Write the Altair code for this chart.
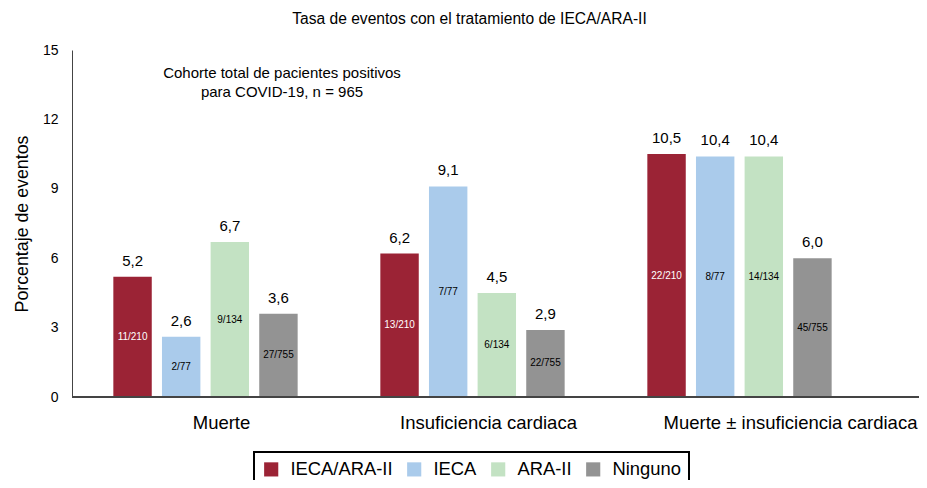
import altair as alt
import pandas as pd

grupos = ["Muerte", "Insuficiencia cardiaca", "Muerte ± insuficiencia cardiaca"]
tratamientos = ["IECA/ARA-II", "IECA", "ARA-II", "Ninguno"]
colores = ["#9B2335", "#AACBEB", "#C3E2C3", "#939393"]
valores = [
    [5.2, 2.6, 6.7, 3.6],
    [6.2, 9.1, 4.5, 2.9],
    [10.5, 10.4, 10.4, 6.0],
]
etiquetas = [
    ["5,2", "2,6", "6,7", "3,6"],
    ["6,2", "9,1", "4,5", "2,9"],
    ["10,5", "10,4", "10,4", "6,0"],
]
fracciones = [
    ["11/210", "2/77", "9/134", "27/755"],
    ["13/210", "7/77", "6/134", "22/755"],
    ["22/210", "8/77", "14/134", "45/755"],
]
y_ticks = [0, 3, 6, 9, 12, 15]

rows = []
for gi, g in enumerate(grupos):
    for ti, t in enumerate(tratamientos):
        rows.append({
            "grupo": g, "trat": t, "valor": valores[gi][ti],
            "etiqueta": etiquetas[gi][ti], "frac": fracciones[gi][ti],
            "mitad": valores[gi][ti] / 2,
            "blanco": t == "IECA/ARA-II",
        })
df = pd.DataFrame(rows)

FONT = "Liberation Sans"
W, H = 847, 347

x_enc = alt.X(
    "grupo:N", sort=grupos, title=None,
    scale=alt.Scale(paddingInner=0, paddingOuter=0, range=[0, 801]),
    axis=alt.Axis(
        domain=False, ticks=False, labelAngle=0, labelFontSize=18.5,
        labelFont=FONT, labelColor="#000", labelPadding=16, labelLimit=0,
        labelOffset={"condition": {"test": "datum.value == 'Muerte ± insuficiencia cardiaca'", "value": 51}, "value": 16},
    ),
)
xoff = alt.XOffset("trat:N", sort=tratamientos,
                   scale=alt.Scale(paddingInner=0.21, paddingOuter=0.85))
color = alt.Color(
    "trat:N", sort=tratamientos,
    scale=alt.Scale(domain=tratamientos, range=colores),
    legend=alt.Legend(
        title=None, orient="none", legendX=182, legendY=402, direction="horizontal",
        symbolType="square", symbolSize=200, symbolStrokeWidth=0,
        labelFontSize=18.4, labelFont=FONT, labelColor="#000", labelOffset=10,
        columnPadding=12, strokeColor="#000", padding=8,
    ),
)
y_enc = alt.Y(
    "valor:Q", title="Porcentaje de eventos",
    scale=alt.Scale(domain=[0, 15], nice=False),
    axis=alt.Axis(
        values=y_ticks, ticks=False, grid=False, domainColor="#444",
        labelFontSize=14, labelFont=FONT, labelColor="#000", labelPadding=14,
        titleFontSize=17.8, titleFont=FONT, titleFontWeight="normal",
        titleColor="#000", titlePadding=11,
    ),
)

base = alt.Chart(df)
bars = base.mark_bar().encode(x=x_enc, xOffset=xoff, y=y_enc, color=color)
top_text = base.mark_text(baseline="bottom", dy=-8, fontSize=15, font=FONT, color="#000").encode(
    x=x_enc, xOffset=xoff, y="valor:Q", text="etiqueta:N")
frac_text = base.mark_text(baseline="middle", fontSize=10, font=FONT).encode(
    x=x_enc, xOffset=xoff, y="mitad:Q", text="frac:N",
    color=alt.condition("datum.blanco", alt.value("#fff"), alt.value("#000")))
baseline = alt.Chart(pd.DataFrame({"v": [0]})).mark_rule(color="#444", strokeWidth=2).encode(
    y="v:Q", x=alt.value(0), x2=alt.value(W))
note = alt.Chart(pd.DataFrame({"t": ["Cohorte total de pacientes positivos\npara COVID-19, n = 965"]})).mark_text(
    fontSize=15, font=FONT, color="#000", lineBreak="\n", lineHeight=19, align="center", baseline="middle"
).encode(x=alt.value(210), y=alt.value(23), text="t:N")

chart = alt.layer(bars, top_text, frac_text, baseline, note).properties(
    width=W, height=H,
    title=alt.Title("Tasa de eventos con el tratamiento de IECA/ARA-II", fontSize=15.6,
                    font=FONT, fontWeight="normal", color="#000", anchor="middle",
                    dx=-26, offset=15),
    autosize=alt.AutoSizeParams(type="none"),
    padding={"left": 64, "top": 50 - 8, "right": 0, "bottom": 83},
).configure_view(stroke=None).configure_legend(strokeWidth=2)

chart.save("out.html", embed_options={"renderer": "svg", "actions": False})
